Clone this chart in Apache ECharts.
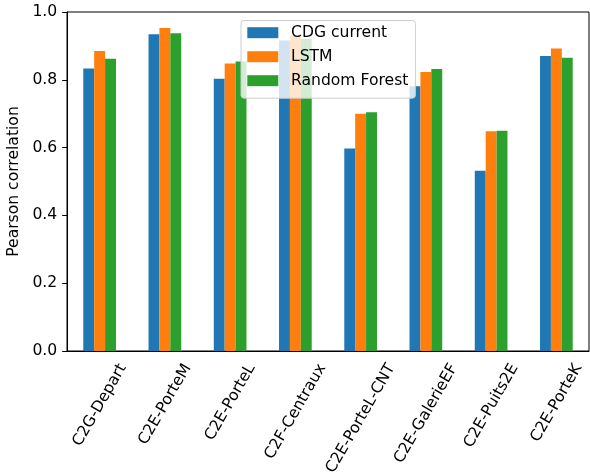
<!DOCTYPE html>
<html>
<head>
<meta charset="utf-8">
<script src="https://cdn.jsdelivr.net/npm/echarts@6/dist/echarts.min.js"></script>
<style>html,body{margin:0;padding:0;background:#fff;}#c{width:590px;height:475px;}</style>
</head>
<body>
<div id="c"></div>
<script>
const categories = ['C2G-Depart', 'C2E-PorteM', 'C2E-PorteL', 'C2F-Centraux', 'C2E-PorteL-CNT', 'C2E-GalerieEF', 'C2E-Puits2E', 'C2E-PorteK'];
const seriesNames = ['CDG current', 'LSTM', 'Random Forest'];
const cdgCurrent = [0.833, 0.934, 0.803, 0.916, 0.597, 0.781, 0.532, 0.870];
const lstm = [0.885, 0.953, 0.848, 0.930, 0.700, 0.823, 0.648, 0.892];
const randomForest = [0.862, 0.937, 0.854, 0.921, 0.704, 0.832, 0.650, 0.865];
const yTicks = [0.0, 0.2, 0.4, 0.6, 0.8, 1.0];

const FS = 15.6;
const FONT = '"DejaVu Sans", sans-serif';
const colors = ['#1f77b4', '#ff7f0e', '#2ca02c'];

// emulate matplotlib's centered rotated tick labels
const ctx = document.createElement('canvas').getContext('2d');
ctx.font = FS + 'px "DejaVu Sans"';
const xData = categories.map(name => {
  const w = ctx.measureText(name).width;
  const hm = FS * 1.17;
  const D = 9.6 + 0.433 * w + 0.25 * hm;
  const c = D / 2;
  const T = c - FS / 2;
  const R = 1.732 * D;
  return {
    value: name,
    textStyle: {
      align: 'center', verticalAlign: 'top',
      padding: [T, R, 0, 0],
      fontSize: FS, color: '#000', fontFamily: FONT
    }
  };
});

const chart = echarts.init(document.getElementById('c'), null, { renderer: 'canvas' });
chart.setOption({
  animation: false,
  color: colors,
  textStyle: { fontFamily: FONT },
  grid: {
    left: 67, right: 1, top: 12, bottom: 124,
    show: true, borderColor: '#000', borderWidth: 1, backgroundColor: 'transparent',
    outerBoundsMode: 'none', containLabel: false
  },
  legend: {
    orient: 'vertical',
    left: 241, top: 20.5,
    data: seriesNames,
    itemWidth: 31, itemHeight: 11, itemGap: 8,
    padding: [4.2, 7, 9.5, 6.3],
    backgroundColor: 'rgba(255,255,255,0.8)',
    borderColor: '#cccccc', borderWidth: 1, borderRadius: 3,
    icon: 'rect',
    textStyle: { fontSize: FS, color: '#000', fontFamily: FONT, padding: [0, 0, 0, 7.7] }
  },
  xAxis: {
    type: 'category',
    data: xData,
    axisLine: { lineStyle: { color: '#000', width: 1 } },
    axisTick: { alignWithLabel: true, length: 4.8, lineStyle: { color: '#000' } },
    axisLabel: {
      interval: 0, rotate: 60, margin: 0,
      align: 'center', verticalAlign: 'top',
      fontSize: FS, color: '#000', fontFamily: FONT
    },
    splitLine: { show: false }
  },
  yAxis: {
    type: 'value',
    min: 0, max: 1, interval: 0.2,
    name: 'Pearson correlation',
    nameLocation: 'middle',
    nameGap: 40,
    nameTextStyle: { fontSize: FS, color: '#000', fontFamily: FONT },
    axisLine: { show: true, lineStyle: { color: '#000', width: 1 } },
    axisTick: { show: true, length: 4.8, lineStyle: { color: '#000' } },
    axisLabel: {
      margin: 9.8, fontSize: FS, color: '#000', fontFamily: FONT,
      customValues: yTicks,
      formatter: v => v.toFixed(1)
    },
    splitLine: { show: false }
  },
  series: [
    { name: seriesNames[0], type: 'bar', data: cdgCurrent, barWidth: 10.9, barGap: '0%' },
    { name: seriesNames[1], type: 'bar', data: lstm, barWidth: 10.9, barGap: '0%' },
    { name: seriesNames[2], type: 'bar', data: randomForest, barWidth: 10.9, barGap: '0%' }
  ]
});
</script>
</body>
</html>
